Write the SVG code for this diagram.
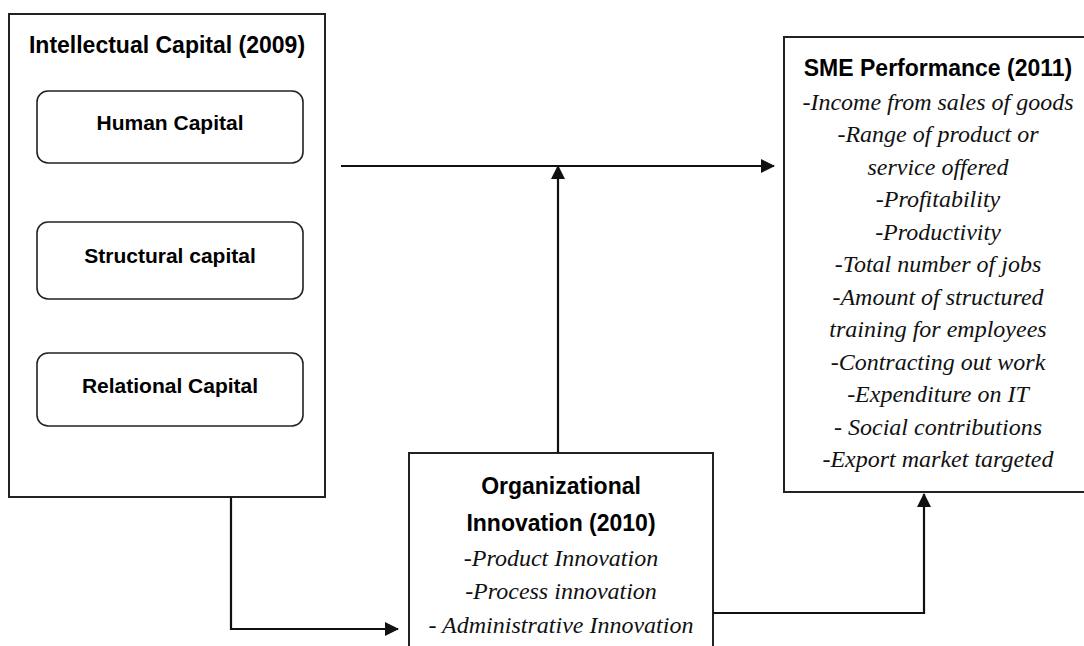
<svg xmlns="http://www.w3.org/2000/svg" width="1084" height="646" viewBox="0 0 1084 646">
  <style>
    .box { fill: #fff; stroke: #222; stroke-width: 2; }
    .sub { fill: #fff; stroke: #222; stroke-width: 1.6; }
    .head { font-family: "Liberation Sans", Arial, sans-serif; font-weight: bold; fill: #000; text-anchor: middle; }
    .item { font-family: "Liberation Serif", "Times New Roman", serif; font-style: italic; fill: #111; text-anchor: middle; font-size: 24px; }
    .wire { fill: none; stroke: #111; stroke-width: 2.2; }
  </style>
  <defs>
    <marker id="arrow" viewBox="0 0 14 14" refX="13" refY="7" markerWidth="14" markerHeight="14" markerUnits="userSpaceOnUse" orient="auto">
      <path d="M0,0 L14,7 L0,14 Z" fill="#111"/>
    </marker>
  </defs>

  <rect width="1084" height="646" fill="#fff"/>

  <!-- Intellectual capital block with its three components -->
  <g id="intellectual-capital">
    <rect class="box" x="9" y="14" width="316" height="483"/>
    <text class="head" x="167" y="53" font-size="23">Intellectual Capital (2009)</text>
  </g>
  <g id="human-capital">
    <rect class="sub" x="37" y="91" width="266" height="72" rx="11"/>
    <text class="head" x="170" y="130" font-size="21">Human Capital</text>
  </g>
  <g id="structural-capital">
    <rect class="sub" x="37" y="222" width="266" height="77" rx="11"/>
    <text class="head" x="170" y="263" font-size="21">Structural capital</text>
  </g>
  <g id="relational-capital">
    <rect class="sub" x="37" y="353" width="266" height="73" rx="11"/>
    <text class="head" x="170" y="393" font-size="21">Relational Capital</text>
  </g>

  <!-- Organizational innovation block (runs past the bottom edge) -->
  <g id="organizational-innovation">
    <rect class="box" x="409" y="453" width="304" height="210"/>
    <text class="head" x="561" y="494" font-size="23">Organizational</text>
    <text class="head" x="561" y="531" font-size="23">Innovation (2010)</text>
    <text class="item" x="561" y="566">-Product Innovation</text>
    <text class="item" x="561" y="599">-Process innovation</text>
    <text class="item" x="561" y="633">- Administrative Innovation</text>
  </g>

  <!-- SME performance block (runs past the right edge) -->
  <g id="sme-performance">
    <rect class="box" x="784" y="37" width="310" height="455"/>
    <text class="head" x="938" y="76" font-size="23">SME Performance (2011)</text>
    <text class="item" x="938" y="110">-Income from sales of goods</text>
    <text class="item" x="938" y="142">-Range of product or</text>
    <text class="item" x="938" y="175">service offered</text>
    <text class="item" x="938" y="207">-Profitability</text>
    <text class="item" x="938" y="240">-Productivity</text>
    <text class="item" x="938" y="272">-Total number of jobs</text>
    <text class="item" x="938" y="305">-Amount of structured</text>
    <text class="item" x="938" y="337">training for employees</text>
    <text class="item" x="938" y="370">-Contracting out work</text>
    <text class="item" x="938" y="402">-Expenditure on IT</text>
    <text class="item" x="938" y="435">- Social contributions</text>
    <text class="item" x="938" y="467">-Export market targeted</text>
  </g>

  <!-- Connectors -->
  <g id="connectors">
    <path class="wire" d="M341,166 H774" marker-end="url(#arrow)"/>
    <path class="wire" d="M558,453 V166" marker-end="url(#arrow)"/>
    <path class="wire" d="M231,497 V629 H398" marker-end="url(#arrow)"/>
    <path class="wire" d="M713,613 H924 V494" marker-end="url(#arrow)"/>
  </g>
</svg>
